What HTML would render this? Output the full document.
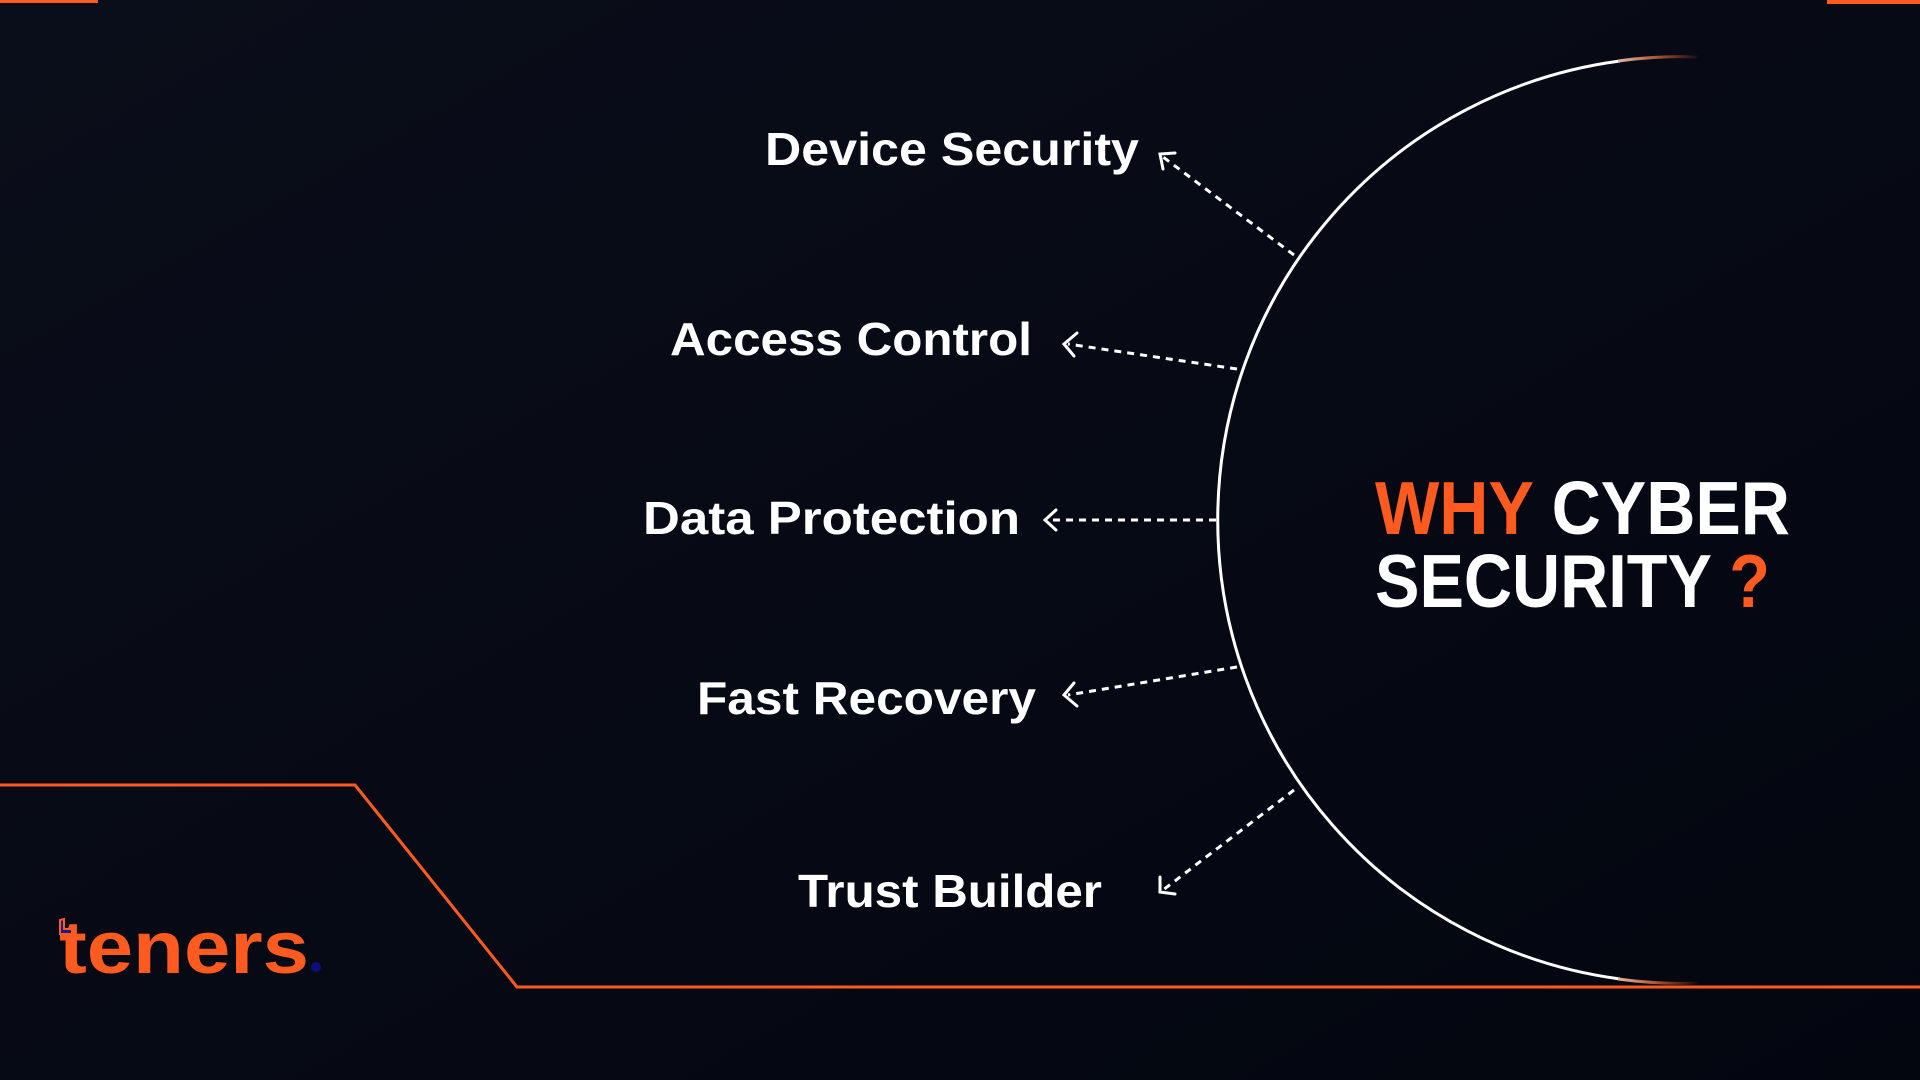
<!DOCTYPE html>
<html><head><meta charset="utf-8"><style>
html,body{margin:0;padding:0;background:#050813;}
svg{display:block}
</style></head><body>
<svg width="1920" height="1080" viewBox="0 0 1920 1080" xmlns="http://www.w3.org/2000/svg">
<defs>
<linearGradient id="bg" x1="0" y1="0" x2="1" y2="1">
<stop offset="0" stop-color="#0a0e1a"/><stop offset="1" stop-color="#03060f"/>
</linearGradient>
<linearGradient id="arcg" x1="1590" y1="0" x2="1700" y2="0" gradientUnits="userSpaceOnUse">
<stop offset="0" stop-color="#fff"/><stop offset="0.5" stop-color="#c07050"/><stop offset="1" stop-color="#ff5a1f" stop-opacity="0"/>
</linearGradient>
</defs>
<rect width="1920" height="1080" fill="url(#bg)"/>
<rect x="0" y="0" width="98" height="3" fill="#ff5a1f"/>
<rect x="1827" y="0" width="93" height="4" fill="#ff5a1f"/>
<polyline points="0,785 355,785 517,987 1920,987" fill="none" stroke="#ff5a1f" stroke-width="3"/>
<path d="M1620,61 A463,463 0 0 0 1620,979" fill="none" stroke="#fff" stroke-width="3"/>
<path d="M1618,61 A463,463 0 0 1 1700,57" fill="none" stroke="url(#arcg)" stroke-width="3"/>
<path d="M1618,979 A463,463 0 0 0 1700,983" fill="none" stroke="url(#arcg)" stroke-width="3"/>
<g fill="#fff" font-family="Liberation Sans, sans-serif" font-weight="bold" font-size="46">
<text x="765" y="165" textLength="374" lengthAdjust="spacingAndGlyphs">Device Security</text>
<text x="670" y="355" textLength="362" lengthAdjust="spacingAndGlyphs">Access Control</text>
<text x="643" y="534" textLength="377" lengthAdjust="spacingAndGlyphs">Data Protection</text>
<text x="697" y="714" textLength="339" lengthAdjust="spacingAndGlyphs">Fast Recovery</text>
<text x="798" y="907" textLength="304" lengthAdjust="spacingAndGlyphs">Trust Builder</text>
</g>
<g stroke="#fff" stroke-width="3" fill="none" stroke-dasharray="7,6">
<line x1="1294" y1="255" x2="1163" y2="157"/>
<line x1="1237" y1="369" x2="1068" y2="344"/>
<line x1="1216" y1="520" x2="1046" y2="520"/>
<line x1="1237" y1="667" x2="1068" y2="695"/>
<line x1="1294" y1="790" x2="1163" y2="890"/>
</g>
<g stroke="#fff" stroke-width="3" fill="none" stroke-linecap="round">
<polyline points="1175,153 1160,154 1163,169"/>
<polyline points="1077,333 1064,344 1074,356"/>
<polyline points="1056,510 1045,520 1056,530"/>
<polyline points="1074,683 1064,695 1077,706"/>
<polyline points="1160,877 1160,892 1175,894"/>
</g>
<g font-family="Liberation Sans, sans-serif" font-weight="bold" font-size="75">
<text x="1375" y="534" textLength="415" lengthAdjust="spacingAndGlyphs"><tspan fill="#ff5a1f">WHY</tspan><tspan fill="#fff"> CYBER</tspan></text>
<text x="1375" y="607" textLength="395" lengthAdjust="spacingAndGlyphs"><tspan fill="#fff">SECURITY </tspan><tspan fill="#ff5a1f">?</tspan></text>
</g>
<text x="59" y="973" fill="#ff5a1f" font-family="Liberation Sans, sans-serif" font-weight="bold" font-size="74" textLength="250" lengthAdjust="spacingAndGlyphs">teners</text>
<circle cx="316" cy="967" r="5" fill="#0a0f7a"/>
<path d="M60,920 L64,919 L64,929 L72,929 L72,934 L60,934Z" fill="#1a1a8a" stroke="#ff5a1f" stroke-width="2"/>
</svg>
</body></html>
